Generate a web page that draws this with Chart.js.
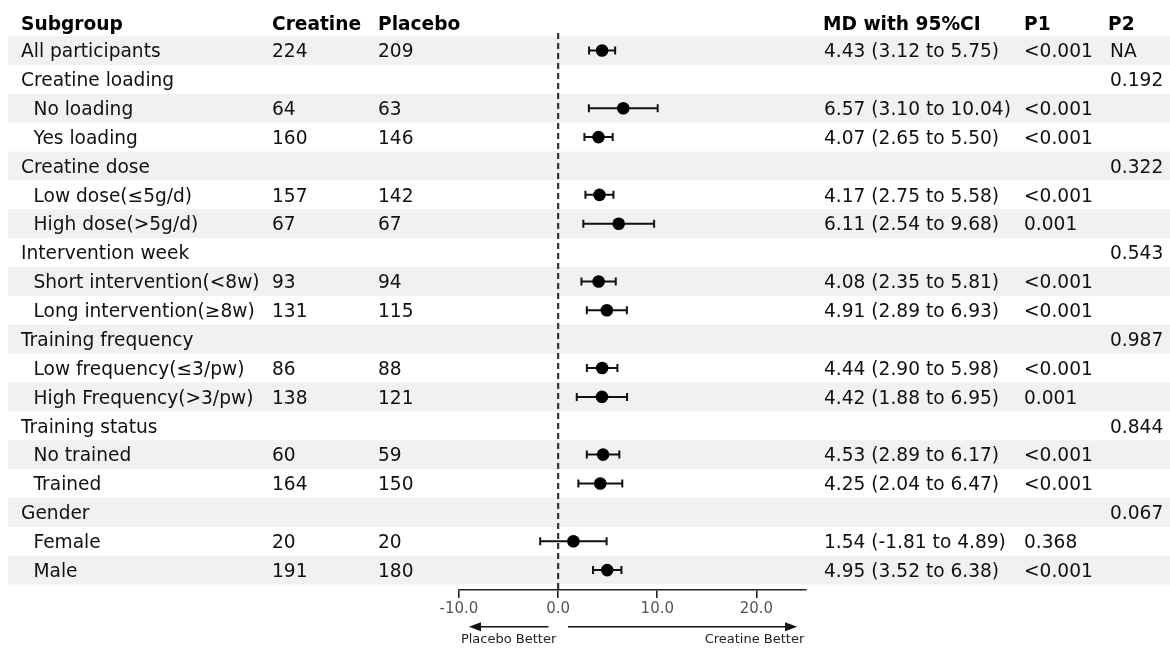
<!DOCTYPE html>
<html>
<head>
<meta charset="utf-8">
<title>Creatine subgroup forest plot</title>
<script src="https://cdn.jsdelivr.net/npm/chart.js@4.4.1/dist/chart.umd.min.js"></script>
<style>
  html, body { margin: 0; padding: 0; background: #ffffff; }
  #wrap { width: 1170px; height: 651px; }
</style>
</head>
<body>
<div id="wrap"><canvas id="forest" width="1170" height="651"></canvas></div>
<script>
// ---- data ----
const subgroups = [
  'All participants', 'Creatine loading', 'No loading', 'Yes loading',
  'Creatine dose', 'Low dose(≤5g/d)', 'High dose(>5g/d)',
  'Intervention week', 'Short intervention(<8w)', 'Long intervention(≥8w)',
  'Training frequency', 'Low frequency(≤3/pw)', 'High Frequency(>3/pw)',
  'Training status', 'No trained', 'Trained',
  'Gender', 'Female', 'Male'
];
// 0 = top-level line, 1 = indented sub-item
const indentLevel = [0, 0, 1, 1, 0, 1, 1, 0, 1, 1, 0, 1, 1, 0, 1, 1, 0, 1, 1];
const creatineN = [224, null, 64, 160, null, 157, 67, null, 93, 131, null, 86, 138, null, 60, 164, null, 20, 191];
const placeboN  = [209, null, 63, 146, null, 142, 67, null, 94, 115, null, 88, 121, null, 59, 150, null, 20, 180];
const meanDiff  = [4.43, null, 6.57, 4.07, null, 4.17, 6.11, null, 4.08, 4.91, null, 4.44, 4.42, null, 4.53, 4.25, null, 1.54, 4.95];
const ciLower   = [3.12, null, 3.10, 2.65, null, 2.75, 2.54, null, 2.35, 2.89, null, 2.90, 1.88, null, 2.89, 2.04, null, -1.81, 3.52];
const ciUpper   = [5.75, null, 10.04, 5.50, null, 5.58, 9.68, null, 5.81, 6.93, null, 5.98, 6.95, null, 6.17, 6.47, null, 4.89, 6.38];
const pWithin   = ['<0.001', '', '<0.001', '<0.001', '', '<0.001', '0.001', '', '<0.001', '<0.001', '', '<0.001', '0.001', '', '<0.001', '<0.001', '', '0.368', '<0.001'];
const pBetween  = ['NA', '0.192', '', '', '0.322', '', '', '0.543', '', '', '0.987', '', '', '0.844', '', '', '0.067', '', ''];
const headers   = ['Subgroup', 'Creatine', 'Placebo', 'MD with 95%CI', 'P1', 'P2'];
const xTicks    = [-10, 0, 10, 20];
const xRange    = [-10, 25];
const directionLabels = ['Placebo Better', 'Creatine Better'];

// ---- layout / style ----
const FONT = "'DejaVu Sans', 'Liberation Sans', sans-serif";
const TEXT_SIZE = 18.6;
const TEXT_COLOR = '#111111';
const STRIPE = '#eff2f1';
const COL = { label0: 21, label1: 33.5, creatine: 272, placebo: 378, md: 824, p1: 1024, p2: 1110 };
const HEAD_COL = [21, 272, 378, 823, 1024, 1108];
const Y_MIN = -1, Y_MAX = 18.69;

const fmt = v => v.toFixed(2);
const mdText = i => meanDiff[i] == null ? '' :
  fmt(meanDiff[i]) + ' (' + fmt(ciLower[i]) + ' to ' + fmt(ciUpper[i]) + ')';

const pointData = [];
meanDiff.forEach((v, i) => { if (v != null) pointData.push({ x: v, y: i }); });

// stripes, whiskers, table text and direction arrows
const forestPlugin = {
  id: 'forestTable',
  beforeDraw(chart) {
    const { ctx, scales: { y } } = chart;
    ctx.save();
    ctx.fillStyle = '#ffffff';
    ctx.fillRect(0, 0, chart.width, chart.height);
    const h = Math.abs(y.getPixelForValue(1) - y.getPixelForValue(0));
    ctx.fillStyle = STRIPE;
    subgroups.forEach((s, i) => {
      if (i % 2 === 0) {
        const cy = y.getPixelForValue(i);
        ctx.fillRect(8, cy - h / 2, chart.width - 8, h);
      }
    });
    ctx.restore();
  },
  beforeDatasetsDraw(chart) {
    const { ctx, scales: { x, y } } = chart;
    ctx.save();
    ctx.strokeStyle = '#111111';
    ctx.lineWidth = 2;
    meanDiff.forEach((v, i) => {
      if (v == null) return;
      const cy = y.getPixelForValue(i);
      const x0 = x.getPixelForValue(ciLower[i]);
      const x1 = x.getPixelForValue(ciUpper[i]);
      ctx.beginPath();
      ctx.moveTo(x0, cy); ctx.lineTo(x1, cy);
      ctx.moveTo(x0, cy - 4); ctx.lineTo(x0, cy + 4);
      ctx.moveTo(x1, cy - 4); ctx.lineTo(x1, cy + 4);
      ctx.stroke();
    });
    ctx.restore();
  },
  afterDraw(chart) {
    const { ctx, scales: { x, y }, chartArea } = chart;
    ctx.save();
    ctx.textBaseline = 'alphabetic';
    ctx.textAlign = 'left';
    const base = v => y.getPixelForValue(v) + 6.8;

    // header
    ctx.font = 'bold ' + TEXT_SIZE + 'px ' + FONT;
    ctx.fillStyle = '#000000';
    headers.forEach((t, k) => ctx.fillText(t, HEAD_COL[k], base(-0.95)));

    // body
    ctx.font = TEXT_SIZE + 'px ' + FONT;
    ctx.fillStyle = TEXT_COLOR;
    subgroups.forEach((s, i) => {
      const by = base(i);
      ctx.fillText(s, indentLevel[i] ? COL.label1 : COL.label0, by);
      if (creatineN[i] != null) ctx.fillText(String(creatineN[i]), COL.creatine, by);
      if (placeboN[i] != null) ctx.fillText(String(placeboN[i]), COL.placebo, by);
      ctx.fillText(mdText(i), COL.md, by);
      ctx.fillText(pWithin[i], COL.p1, by);
      ctx.fillText(pBetween[i], COL.p2, by);
    });

    // direction arrows under the axis
    const ay = chartArea.bottom + 36.7;
    const arrow = (from, to) => {
      const a = x.getPixelForValue(from), b = x.getPixelForValue(to);
      const dir = Math.sign(b - a);
      ctx.beginPath();
      ctx.moveTo(a, ay); ctx.lineTo(b - dir * 10, ay);
      ctx.stroke();
      ctx.beginPath();
      ctx.moveTo(b, ay);
      ctx.lineTo(b - dir * 12, ay - 4.5);
      ctx.lineTo(b - dir * 12, ay + 4.5);
      ctx.closePath();
      ctx.fill();
    };
    ctx.strokeStyle = '#111111';
    ctx.fillStyle = '#111111';
    ctx.lineWidth = 1.6;
    arrow(-0.98, -9.0);
    arrow(1.0, 24.1);

    ctx.font = '13px ' + FONT;
    ctx.fillStyle = '#222222';
    ctx.textAlign = 'center';
    ctx.fillText(directionLabels[0], x.getPixelForValue(-5.0), chartArea.bottom + 52.7);
    ctx.fillText(directionLabels[1], x.getPixelForValue(19.8), chartArea.bottom + 52.7);
    ctx.restore();
  }
};

new Chart(document.getElementById('forest'), {
  type: 'scatter',
  data: {
    datasets: [
      {
        label: 'MD',
        data: pointData,
        pointRadius: 6.3,
        pointHoverRadius: 6.3,
        pointBackgroundColor: '#000000',
        pointBorderColor: '#000000',
        pointBorderWidth: 0,
        order: 0
      },
      {
        label: 'No effect',
        type: 'line',
        data: [{ x: 0, y: -0.61 }, { x: 0, y: Y_MAX }],
        borderColor: '#333333',
        borderWidth: 2.2,
        borderDash: [6, 4],
        pointRadius: 0,
        fill: false,
        order: 1
      }
    ]
  },
  options: {
    responsive: false,
    animation: false,
    devicePixelRatio: 1,
    layout: { padding: { left: 459, right: 364, top: 21.64, bottom: 21 } },
    plugins: { legend: { display: false }, tooltip: { enabled: false } },
    scales: {
      x: {
        type: 'linear',
        min: xRange[0],
        max: xRange[1],
        afterBuildTicks: s => { s.ticks = xTicks.map(v => ({ value: v })); },
        afterFit: s => { s.height = 40; },
        ticks: {
          callback: v => v.toFixed(1),
          color: '#555555',
          font: { family: FONT, size: 15 },
          padding: 2,
          maxRotation: 0
        },
        grid: { drawOnChartArea: false, drawTicks: true, tickLength: 8, color: '#222222', lineWidth: 1.6 },
        border: { display: true, color: '#222222', width: 1.6 }
      },
      y: {
        type: 'linear',
        display: false,
        reverse: true,
        min: Y_MIN,
        max: Y_MAX
      }
    }
  },
  plugins: [forestPlugin]
});
</script>
</body>
</html>
